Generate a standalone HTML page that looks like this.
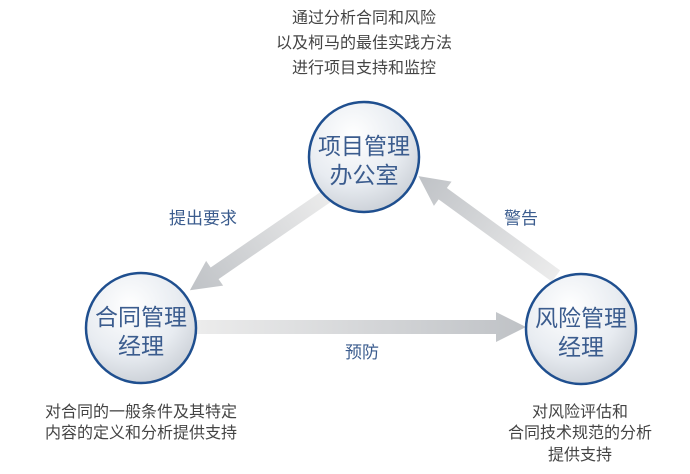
<!DOCTYPE html>
<html><head><meta charset="utf-8"><style>
html,body{margin:0;padding:0;background:#fff;}
body{width:690px;height:469px;overflow:hidden;}
svg text{font-family:"Liberation Sans","Noto Sans CJK SC",sans-serif;}
</style></head><body>
<svg width="690" height="469" viewBox="0 0 690 469" xmlns="http://www.w3.org/2000/svg">
<defs>
<radialGradient id="cg" cx="0.4" cy="0.3" r="0.75">
<stop offset="0" stop-color="#ffffff"/><stop offset="0.6" stop-color="#e8ecf1"/><stop offset="1" stop-color="#c9ced5"/>
</radialGradient>
<linearGradient id="a1" x1="0" y1="0" x2="1" y2="0"><stop offset="0" stop-color="#ececec"/><stop offset="1" stop-color="#bfc2c6"/></linearGradient>
</defs>
<g fill="url(#a1)">
<g transform="translate(196,327)"><polygon points="0,-7 300,-7 300,-15 330,0 300,15 300,7 0,7"/></g>
<g transform="translate(330,194) rotate(145.5)"><polygon points="0,-7 140,-7 140,-15 170,0 140,15 140,7 0,7"/></g>
<g transform="translate(556,276) rotate(-144)"><polygon points="0,-7 140,-7 140,-15 170,0 140,15 140,7 0,7"/></g>
</g>
<g stroke="#1f4f8f" stroke-width="2.5" fill="url(#cg)">
<circle cx="364" cy="157" r="55"/>
<circle cx="141" cy="328" r="55"/>
<circle cx="581" cy="329" r="55"/>
</g>
<g fill="#3b5c8e" font-size="23" text-anchor="middle">
<text x="364" y="154">项目管理</text><text x="364" y="183">办公室</text>
<text x="141" y="325">合同管理</text><text x="141" y="354">经理</text>
<text x="581" y="326">风险管理</text><text x="581" y="355">经理</text>
</g>
<g fill="#3b5c8e" font-size="17" text-anchor="middle">
<text x="203" y="224">提出要求</text>
<text x="521" y="224">警告</text>
<text x="362" y="358">预防</text>
</g>
<g fill="#444" font-size="16" text-anchor="middle">
<text x="364" y="23">通过分析合同和风险</text>
<text x="364" y="48">以及柯马的最佳实践方法</text>
<text x="364" y="73">进行项目支持和监控</text>
<text x="141" y="417">对合同的一般条件及其特定</text>
<text x="141" y="438">内容的定义和分析提供支持</text>
<text x="580" y="417">对风险评估和</text>
<text x="580" y="438">合同技术规范的分析</text>
<text x="580" y="460">提供支持</text>
</g>
</svg>
</body></html>
